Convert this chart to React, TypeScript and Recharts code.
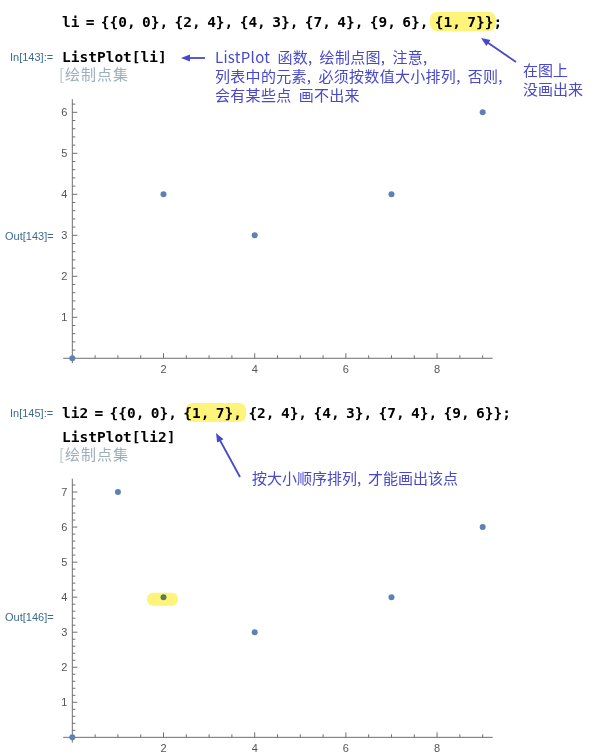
import React from 'react';
import { ScatterChart, Scatter, XAxis, YAxis, ReferenceLine, ReferenceDot } from 'recharts';

// ---- data ----
const plotOnePoints = [
  { x: 0, y: 0 },
  { x: 2, y: 4 },
  { x: 4, y: 3 },
  { x: 7, y: 4 },
  { x: 9, y: 6 },
];
const plotTwoPoints = [
  { x: 0, y: 0 },
  { x: 1, y: 7 },
  { x: 2, y: 4 },
  { x: 4, y: 3 },
  { x: 7, y: 4 },
  { x: 9, y: 6 },
];
const highlightPoint = { x: 2, y: 4 };
const xTickLabels = [2, 4, 6, 8];
const yTickLabelsOne = [1, 2, 3, 4, 5, 6];
const yTickLabelsTwo = [1, 2, 3, 4, 5, 6, 7];

// minor ticks (axis decoration)
const minorTicks = (max: number, step: number) => {
  const out: number[] = [];
  for (let i = 1; i * step <= max + 1e-9; i++) {
    const v = Math.round(i * step * 100) / 100;
    if (Math.abs(v - Math.round(v)) > 1e-9 || (step === 0.5 && Math.round(v) % 2 === 1)) out.push(v);
  }
  return out;
};
const xMinor = minorTicks(9, 0.5);
const yMinorOne = minorTicks(6.2, 0.2);
const yMinorTwo = minorTicks(7.2, 0.2);

const AXIS = '#6f6f6f';
const LABEL = '#555555';
const DOT = '#5e81b5';
const YELLOW = '#fff47a';
const NOTE = '#4848cc';
const CELL = '#3d6b8e';
const CODE_FONT = '"DejaVu Sans Mono", "Liberation Mono", monospace';
const TICK_FONT = '"Liberation Sans", Arial, sans-serif';
const CJK_FONT = '"Noto Sans CJK SC", "Noto Sans", sans-serif';

const XTickMark = ({ cx, cy, major, label }: any) => (
  <g>
    <line x1={cx} y1={cy} x2={cx} y2={cy - (major ? 5 : 3)} stroke={AXIS} strokeWidth={1} />
    {label != null && (
      <text x={cx} y={cy + 15} textAnchor="middle" fontSize={11} fill={LABEL} fontFamily={TICK_FONT}>
        {label}
      </text>
    )}
  </g>
);
const YTickMark = ({ cx, cy, major, label }: any) => (
  <g>
    <line x1={cx} y1={cy} x2={cx + (major ? 5 : 3)} y2={cy} stroke={AXIS} strokeWidth={1} />
    {label != null && (
      <text x={cx - 5} y={cy + 4} textAnchor="end" fontSize={11} fill={LABEL} fontFamily={TICK_FONT}>
        {label}
      </text>
    )}
  </g>
);

const dotShape = (p: any) => (
  <circle cx={p.cx} cy={p.cy} r={3} fill={DOT} style={{ mixBlendMode: 'multiply' }} />
);

function Plot({
  points,
  yMax,
  yMin,
  yLabels,
  yMinor,
  top,
  height,
  marginTop,
  marginBottom,
  highlight,
}: any) {
  return (
    <div style={{ position: 'absolute', left: 0, top, width: 612, height }}>
      <ScatterChart
        width={612}
        height={height}
        margin={{ top: marginTop, left: 63.2, right: 119.3, bottom: marginBottom }}
      >
        <XAxis type="number" dataKey="x" domain={[-0.2, 9.22]} hide allowDataOverflow />
        <YAxis type="number" dataKey="y" domain={[yMin, yMax]} hide allowDataOverflow />
        <ReferenceLine y={0} stroke={AXIS} strokeWidth={1} />
        <ReferenceLine x={0} stroke={AXIS} strokeWidth={1} />
        {xMinor.map((v: number) => (
          <ReferenceDot key={'xm' + v} x={v} y={0} shape={(p: any) => <XTickMark cx={p.cx} cy={p.cy} />} />
        ))}
        {xTickLabels.map((v) => (
          <ReferenceDot key={'xM' + v} x={v} y={0} shape={(p: any) => <XTickMark cx={p.cx} cy={p.cy} major label={v} />} />
        ))}
        {yMinor.map((v: number) => (
          <ReferenceDot key={'ym' + v} x={0} y={v} shape={(p: any) => <YTickMark cx={p.cx} cy={p.cy} />} />
        ))}
        {yLabels.map((v: number) => (
          <ReferenceDot key={'yM' + v} x={0} y={v} shape={(p: any) => <YTickMark cx={p.cx} cy={p.cy} major label={v} />} />
        ))}
        <Scatter data={points} isAnimationActive={false} shape={dotShape} />
        {highlight && (
          <ReferenceDot
            x={highlight.x}
            y={highlight.y}
            shape={(p: any) => (
              <rect
                x={p.cx - 16.5}
                y={p.cy - 4.5}
                width={31}
                height={13}
                rx={6}
                fill={YELLOW}
                style={{ mixBlendMode: 'multiply' }}
              />
            )}
          />
        )}
      </ScatterChart>
    </div>
  );
}

const Arrow = ({ x1, y1, x2, y2 }: any) => {
  // tail (x1,y1) -> tip (x2,y2)
  const dx = x2 - x1;
  const dy = y2 - y1;
  const len = Math.sqrt(dx * dx + dy * dy);
  const ux = dx / len;
  const uy = dy / len;
  const hl = 9;
  const hw = 3.6;
  const bx = x2 - ux * hl;
  const by = y2 - uy * hl;
  return (
    <g>
      <line x1={x1} y1={y1} x2={bx + ux * 1} y2={by + uy * 1} stroke={NOTE} strokeWidth={1.8} />
      <polygon
        points={`${x2},${y2} ${bx - uy * hw},${by + ux * hw} ${bx + uy * hw},${by - ux * hw}`}
        fill={NOTE}
      />
    </g>
  );
};

const codeStyle: any = { fontFamily: CODE_FONT, fontWeight: 700, fontSize: 14.5, fill: '#000', wordSpacing: -2.4 };
const cellStyle: any = { fontFamily: TICK_FONT, fontSize: 11, fill: CELL };
const noteStyle: any = { fontFamily: CJK_FONT, fontSize: 15, fill: NOTE, wordSpacing: 3.5, letterSpacing: 0.3 };
const hintStyle: any = { fontFamily: CJK_FONT, fontSize: 15, fill: '#9aaebb', letterSpacing: 1 };

export default function App() {
  return (
    <div style={{ position: 'absolute', left: 0, top: 0, width: 612, height: 756, background: '#fff', overflow: 'hidden' }}>
      <svg width={612} height={756} style={{ position: 'absolute', left: 0, top: 0 }}>
        {/* first cell */}
        <rect x={430} y={12} width={66} height={19} rx={7} fill={YELLOW} />
        <text x={62} y={27} style={codeStyle}>{'li = {{0, 0}, {2, 4}, {4, 3}, {7, 4}, {9, 6}, {1, 7}};'}</text>
        <text x={10} y={61} style={cellStyle}>In[143]:=</text>
        <text x={62} y={62} style={codeStyle}>ListPlot[li]</text>
        <text x={59} y={80} style={{ ...hintStyle, fill: '#b4c0c9', letterSpacing: 0 }}>[</text>
        <text x={65} y={80} style={hintStyle}>绘制点集</text>
        <Arrow x1={205} y1={58} x2={181} y2={58} />
        <text x={215} y={63} style={noteStyle}>ListPlot 函数, 绘制点图, 注意,</text>
        <text x={215} y={82} style={noteStyle}>列表中的元素, 必须按数值大小排列, 否则,</text>
        <text x={215} y={101} style={noteStyle}>会有某些点 画不出来</text>
        <Arrow x1={516} y1={62} x2={481} y2={38} />
        <text x={523} y={76} style={{ ...noteStyle, letterSpacing: 0 }}>在图上</text>
        <text x={523} y={95} style={{ ...noteStyle, letterSpacing: 0 }}>没画出来</text>
        <text x={5} y={240} style={cellStyle}>Out[143]=</text>

        {/* second cell */}
        <rect x={186} y={403} width={60} height={19} rx={7} fill={YELLOW} />
        <text x={10} y={417} style={cellStyle}>In[145]:=</text>
        <text x={62} y={418} style={codeStyle}>{'li2 = {{0, 0}, {1, 7}, {2, 4}, {4, 3}, {7, 4}, {9, 6}};'}</text>
        <text x={62} y={442} style={codeStyle}>ListPlot[li2]</text>
        <text x={59} y={460} style={{ ...hintStyle, fill: '#b4c0c9', letterSpacing: 0 }}>[</text>
        <text x={65} y={460} style={hintStyle}>绘制点集</text>
        <Arrow x1={240} y1={477} x2={216} y2={433} />
        <text x={252} y={484} style={{ ...noteStyle, letterSpacing: 0 }}>按大小顺序排列, 才能画出该点</text>
        <text x={5} y={621} style={cellStyle}>Out[146]=</text>
      </svg>

      <Plot
        points={plotOnePoints}
        yMin={-0.12}
        yMax={6.32}
        yLabels={yTickLabelsOne}
        yMinor={yMinorOne}
        top={90}
        height={300}
        marginTop={9.2}
        marginBottom={26.8}
      />
      <Plot
        points={plotTwoPoints}
        yMin={-0.15}
        yMax={7.38}
        yLabels={yTickLabelsTwo}
        yMinor={yMinorTwo}
        top={470}
        height={286}
        marginTop={8.7}
        marginBottom={13.4}
        highlight={highlightPoint}
      />
    </div>
  );
}
